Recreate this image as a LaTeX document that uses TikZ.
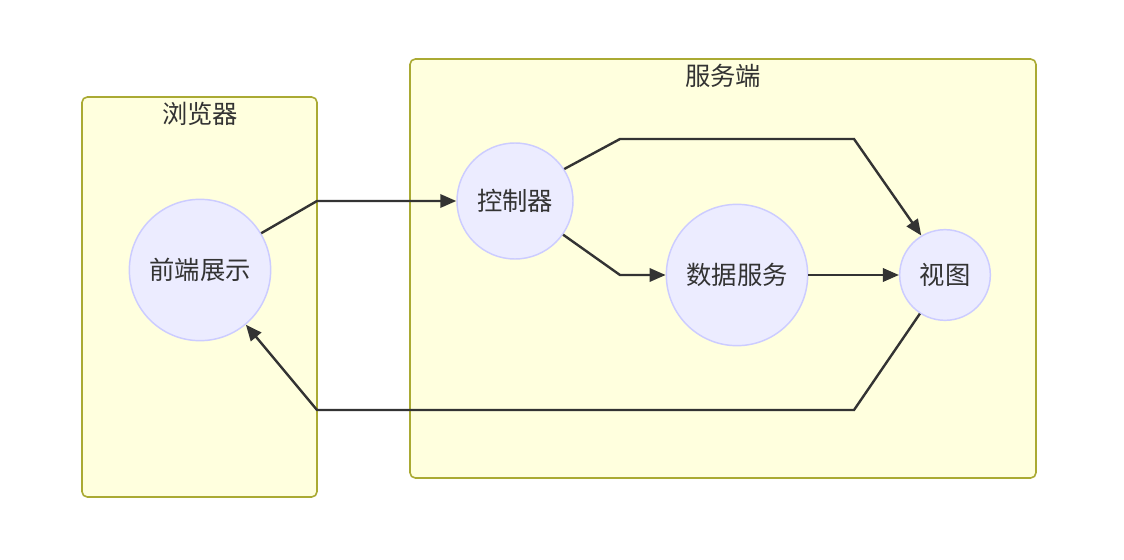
\documentclass[tikz,border=0pt]{standalone}
\usepackage{fontspec}
\setmainfont{Noto Sans CJK SC}
\usetikzlibrary{arrows.meta}
\definecolor{clfill}{HTML}{FFFFDE}
\definecolor{cldraw}{HTML}{AAAA33}
\definecolor{ndfill}{HTML}{ECECFF}
\definecolor{nddraw}{HTML}{CCCCFF}
\definecolor{ink}{HTML}{333333}
\begin{document}
\begin{tikzpicture}[x=0.75pt, y=-0.75pt,
		cluster/.style={fill=clfill, draw=cldraw, line width=1.2pt, rounded corners=4pt},
		title/.style={text=ink, font=\fontsize{19pt}{21pt}\selectfont},
		proc/.style={circle, fill=ndfill, draw=nddraw, line width=1.1pt, inner sep=0pt, text=ink, font=\fontsize{19pt}{21pt}\selectfont},
		link/.style={draw=ink, line width=1.8pt, -{Triangle[length=12pt, width=10pt]}}]
				\useasboundingbox (0,0) rectangle (1124,560);
				\draw[cluster] (82,97) rectangle (317,497);
				\draw[cluster] (410,59) rectangle (1036,478);
				\node[title] (llq) at (200,114) {浏览器};
				\node[title] (fwd) at (723,76) {服务端};

				\node[proc, minimum size=106pt] (qd) at (200,270) {前端展示};
				\node[proc, minimum size=87pt] (kz) at (515,201) {控制器};
				\node[proc, minimum size=106pt] (sj) at (737,275) {数据服务};
				\node[proc, minimum size=68pt] (st) at (945,275) {视图};

				\draw[link] (qd.31) -- (317,201) -- (kz.west);
				\draw[link] (kz.33) -- (620,139) -- (854,139) -- (st.121);
				\draw[link] (kz.-35) -- (620,275) -- (sj.west);
				\draw[link] (sj.east) -- (st.west);
				\draw[link] (st.-123) -- (854,410) -- (317,410) -- (qd.-50);
			\end{tikzpicture}
\end{document}
